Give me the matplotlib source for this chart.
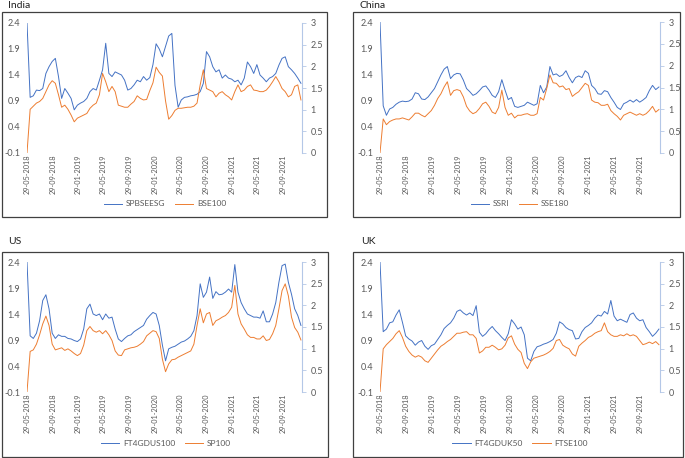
import pandas as pd
import matplotlib.pyplot as plt
from matplotlib.patches import Rectangle

plt.rcParams['font.family'] = ['Lato', 'DejaVu Sans']

W, H = 685, 458

# semi-monthly observation dates
dates = pd.date_range('2018-05-29', periods=88, freq='15D')

tick_labels = ['29-05-2018', '29-09-2018', '29-01-2019', '29-05-2019', '29-09-2019',
               '29-01-2020', '29-05-2020', '29-09-2020', '29-01-2021', '29-05-2021',
               '29-09-2021']
left_ticks = [-0.1, 0.4, 0.9, 1.4, 1.9, 2.4]
left_labels = ['-0.1', '0.4', '0.9', '1.4', '1.9', '2.4']
right_ticks = [0, 0.5, 1, 1.5, 2, 2.5, 3]
right_labels = ['0', '0.5', '1', '1.5', '2', '2.5', '3']

# India
india_esg = [2.4, 0.97, 1.0, 1.11, 1.10, 1.14, 1.43, 1.56, 1.66, 1.72,
             1.37, 0.95, 1.14, 1.05, 0.95, 0.73, 0.82, 0.86, 0.89, 0.95,
             1.08, 1.14, 1.11, 1.30, 1.50, 2.01, 1.43, 1.37, 1.46, 1.43,
             1.40, 1.30, 1.11, 1.14, 1.21, 1.30, 1.27, 1.37, 1.30, 1.35,
             1.60, 2.00, 1.90, 1.75, 1.95, 2.15, 2.20, 1.20, 0.78, 0.92,
             0.97, 0.98, 1.0, 1.01, 1.03, 1.08, 1.24, 1.85, 1.75, 1.56,
             1.46, 1.50, 1.34, 1.40, 1.34, 1.32, 1.27, 1.30, 1.21, 1.34,
             1.65, 1.56, 1.43, 1.60, 1.40, 1.34, 1.27, 1.34, 1.37, 1.43,
             1.59, 1.72, 1.75, 1.56, 1.50, 1.43, 1.34, 1.24]
india_idx = [-0.1, 0.74, 0.80, 0.86, 0.89, 0.95, 1.08, 1.21, 1.29, 1.24,
             1.02, 0.78, 0.82, 0.74, 0.63, 0.50, 0.57, 0.60, 0.63, 0.66,
             0.76, 0.82, 0.86, 1.02, 1.43, 1.27, 1.08, 1.18, 1.08, 0.82,
             0.80, 0.78, 0.78, 0.84, 0.89, 1.0, 0.95, 0.92, 0.93, 1.10,
             1.25, 1.55, 1.45, 1.38, 0.90, 0.55, 0.62, 0.72, 0.76, 0.76,
             0.77, 0.78, 0.78, 0.80, 0.86, 1.21, 1.50, 1.14, 1.11, 1.08,
             0.98, 1.05, 1.08, 1.02, 0.98, 0.92, 1.08, 1.21, 1.08, 1.11,
             1.18, 1.21, 1.11, 1.10, 1.08, 1.08, 1.11, 1.18, 1.27, 1.37,
             1.27, 1.14, 1.08, 0.98, 1.02, 1.18, 1.21, 0.92]

# China
china_esg = [2.4, 0.80, 0.62, 0.74, 0.77, 0.83, 0.87, 0.89, 0.88, 0.89,
             0.93, 1.05, 1.03, 0.93, 0.92, 0.97, 1.05, 1.13, 1.26, 1.39,
             1.50, 1.55, 1.32, 1.39, 1.42, 1.41, 1.29, 1.13, 1.07, 1.00,
             1.03, 1.09, 1.16, 1.18, 1.10, 1.00, 0.96, 1.07, 1.30, 1.10,
             0.92, 0.96, 0.79, 0.77, 0.79, 0.81, 0.87, 0.84, 0.81, 0.84,
             1.19, 1.05, 1.16, 1.55, 1.39, 1.41, 1.36, 1.39, 1.47, 1.34,
             1.24, 1.34, 1.37, 1.34, 1.47, 1.42, 1.19, 1.13, 1.03, 1.02,
             1.09, 1.07, 0.96, 0.87, 0.77, 0.73, 0.84, 0.87, 0.91, 0.87,
             0.92, 0.87, 0.91, 0.96, 1.09, 1.19, 1.11, 1.16]
china_idx = [-0.1, 0.55, 0.44, 0.50, 0.53, 0.55, 0.55, 0.57, 0.55, 0.53,
             0.59, 0.66, 0.66, 0.62, 0.59, 0.65, 0.71, 0.81, 0.94, 1.03,
             1.16, 1.26, 1.0, 1.09, 1.11, 1.09, 0.97, 0.79, 0.70, 0.65,
             0.68, 0.75, 0.84, 0.87, 0.79, 0.68, 0.65, 0.77, 1.10, 0.77,
             0.62, 0.66, 0.57, 0.62, 0.62, 0.64, 0.65, 0.62, 0.62, 0.65,
             0.96, 0.91, 1.13, 1.39, 1.24, 1.23, 1.16, 1.18, 1.11, 1.13,
             0.98, 1.03, 1.07, 1.15, 1.23, 1.19, 0.91, 0.87, 0.86, 0.81,
             0.81, 0.83, 0.71, 0.65, 0.60, 0.53, 0.62, 0.65, 0.68, 0.65,
             0.62, 0.65, 0.62, 0.65, 0.71, 0.79, 0.68, 0.73]

# US
us_esg = [2.4, 0.98, 0.93, 1.03, 1.27, 1.66, 1.77, 1.50, 1.03, 0.93,
          1.0, 0.97, 0.97, 0.93, 0.92, 0.89, 0.87, 0.92, 1.11, 1.50,
          1.59, 1.40, 1.37, 1.40, 1.29, 1.40, 1.32, 1.34, 1.11, 0.92,
          0.87, 0.93, 0.98, 1.0, 1.06, 1.10, 1.14, 1.18, 1.30, 1.37,
          1.43, 1.40, 1.18, 0.80, 0.50, 0.73, 0.76, 0.78, 0.82, 0.86,
          0.88, 0.92, 0.97, 1.08, 1.37, 1.98, 1.72, 1.82, 2.11, 1.70,
          1.83, 1.77, 1.78, 1.82, 1.88, 1.82, 2.35, 1.82, 1.62, 1.50,
          1.40, 1.37, 1.34, 1.34, 1.32, 1.46, 1.25, 1.25, 1.40, 1.62,
          2.01, 2.33, 2.36, 2.01, 1.78, 1.50, 1.37, 1.18]
us_idx = [-0.1, 0.68, 0.71, 0.82, 1.0, 1.21, 1.36, 1.18, 0.82, 0.71,
          0.73, 0.75, 0.70, 0.73, 0.69, 0.64, 0.60, 0.64, 0.80, 1.08,
          1.16, 1.08, 1.05, 1.08, 1.02, 1.08, 1.0, 0.89, 0.69, 0.61,
          0.60, 0.71, 0.73, 0.75, 0.76, 0.78, 0.82, 0.87, 0.98, 1.03,
          1.08, 1.06, 0.93, 0.53, 0.29, 0.44, 0.52, 0.53, 0.57, 0.60,
          0.63, 0.66, 0.69, 0.82, 1.18, 1.50, 1.23, 1.40, 1.43, 1.18,
          1.27, 1.30, 1.34, 1.37, 1.43, 1.53, 1.95, 1.40, 1.21, 1.11,
          1.0, 0.95, 0.95, 0.92, 0.92, 0.98, 0.89, 0.91, 1.02, 1.18,
          1.50, 1.85, 1.98, 1.75, 1.34, 1.14, 1.05, 0.90]

# UK
uk_esg = [2.4, 1.06, 1.11, 1.23, 1.25, 1.38, 1.48, 1.24, 0.98, 0.92,
          0.88, 0.80, 0.86, 0.89, 0.78, 0.72, 0.79, 0.82, 0.91, 1.0,
          1.12, 1.18, 1.23, 1.32, 1.45, 1.48, 1.42, 1.38, 1.42, 1.37,
          1.56, 1.05, 0.97, 1.02, 1.10, 1.16, 1.08, 1.02, 0.95, 0.89,
          1.02, 1.29, 1.21, 1.11, 1.15, 1.0, 0.55, 0.50, 0.68, 0.77,
          0.79, 0.82, 0.84, 0.87, 0.91, 1.03, 1.25, 1.21, 1.14, 1.10,
          1.08, 0.92, 0.93, 1.06, 1.14, 1.18, 1.23, 1.32, 1.38, 1.36,
          1.45, 1.40, 1.66, 1.36, 1.27, 1.30, 1.27, 1.24, 1.39, 1.42,
          1.32, 1.27, 1.29, 1.14, 1.06, 0.97, 1.03, 1.11]
uk_idx = [-0.1, 0.73, 0.81, 0.87, 0.93, 1.02, 1.08, 0.95, 0.78, 0.68,
          0.61, 0.57, 0.60, 0.57, 0.50, 0.47, 0.55, 0.63, 0.71, 0.78,
          0.82, 0.87, 0.91, 0.97, 1.03, 1.03, 1.05, 1.06, 1.0, 1.0,
          0.93, 0.65, 0.69, 0.76, 0.76, 0.80, 0.76, 0.71, 0.73, 0.80,
          0.94, 0.98, 0.82, 0.72, 0.66, 0.45, 0.35, 0.48, 0.55, 0.57,
          0.59, 0.61, 0.64, 0.68, 0.74, 0.89, 0.91, 0.80, 0.76, 0.73,
          0.63, 0.59, 0.78, 0.84, 0.89, 0.95, 0.98, 1.03, 1.06, 1.08,
          1.23, 1.06, 1.0, 0.97, 0.97, 1.0, 0.98, 1.02, 0.98, 1.0,
          0.97, 0.89, 0.81, 0.83, 0.86, 0.83, 0.87, 0.81]

# title, legend names, data, plot box (px), frame box (px), title xy, legend xy
panels = [
    ('India', 'SPBSEESG', 'BSE100', india_esg, india_idx,
     (27, 23, 302, 153), (2, 12, 327, 217), (8, 1), (165, 204)),
    ('China', 'SSRI', 'SSE180', china_esg, china_idx,
     (380, 22, 660, 153), (353, 12, 680, 217), (360, 1), (520, 204)),
    ('US', 'FT4GDUS100', 'SP100', us_esg, us_idx,
     (27, 262, 302, 392), (2, 252, 328, 457), (8, 237), (166, 443)),
    ('UK', 'FT4GDUK50', 'FTSE100', uk_esg, uk_idx,
     (380, 262, 660, 392), (353, 252, 683, 457), (361, 237), (520, 443)),
]

blue = '#4472C4'
orange = '#ED7D31'
grey = '#595959'

fig = plt.figure(figsize=(W / 100, H / 100), dpi=100)

for title, name1, name2, esg, idx, box, frame, tpos, lpos in panels:
    x0, y0, x1, y1 = box
    ax = fig.add_axes([x0 / W, 1 - y1 / H, (x1 - x0) / W, (y1 - y0) / H])
    ax.patch.set_alpha(0)
    l1, = ax.plot(dates, esg, color=blue, lw=0.7, label=name1)
    l2, = ax.plot(dates, idx, color=orange, lw=0.7, label=name2)
    ax.set_xlim(pd.Timestamp('2018-05-29'), pd.Timestamp('2021-12-29'))
    ax.set_ylim(-0.1, 2.4)
    ax.set_yticks(left_ticks)
    ax.set_yticklabels(left_labels)
    ax.set_xticks(pd.to_datetime(tick_labels, format='%d-%m-%Y'))
    ax.set_xticklabels(tick_labels, rotation=90, va='top', ha='center')
    ax.tick_params(axis='y', length=0, pad=5, labelsize=6.5, labelcolor=grey)
    ax.tick_params(axis='x', length=0, pad=1, labelsize=5.3, labelcolor=grey)
    for s in ax.spines.values():
        s.set_visible(False)

    ax2 = ax.twinx()
    ax2.set_ylim(0, 3)
    ax2.set_yticks(right_ticks)
    ax2.set_yticklabels(right_labels)
    ax2.tick_params(axis='y', length=3, width=0.6, color='#B4C7E7', pad=3,
                    labelsize=6.5, labelcolor=grey)
    for k, s in ax2.spines.items():
        s.set_visible(k == 'right')
    ax2.spines['right'].set_color('#B4C7E7')
    ax2.spines['right'].set_linewidth(0.8)

    fx0, fy0, fx1, fy1 = frame
    fig.patches.append(Rectangle((fx0 / W, 1 - fy1 / H), (fx1 - fx0) / W, (fy1 - fy0) / H,
                                 transform=fig.transFigure, fill=False,
                                 edgecolor='#404040', lw=0.9))
    fig.text(tpos[0] / W, 1 - tpos[1] / H, title, fontsize=7.5, va='top', ha='left',
             color='#222222')
    fig.legend(handles=[l1, l2], loc='center', ncol=2, frameon=False,
               bbox_to_anchor=(lpos[0] / W, 1 - lpos[1] / H),
               fontsize=6, handlelength=2.2, handletextpad=0.4, columnspacing=1.2,
               labelcolor=grey)

plt.savefig('out.png', dpi=100)
